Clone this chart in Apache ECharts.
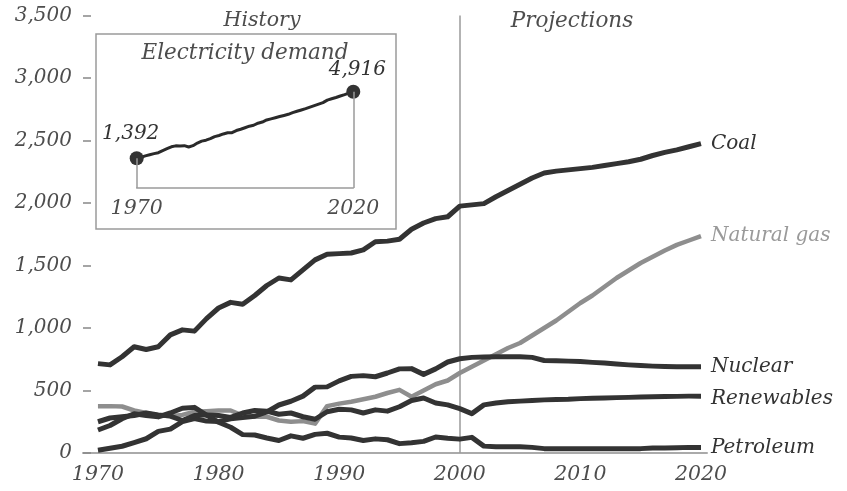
<!DOCTYPE html>
<html>
<head>
<meta charset="utf-8">
<script src="https://cdn.jsdelivr.net/npm/echarts/dist/echarts.min.js"></script>
<style>html,body{margin:0;padding:0;background:#fff}#c{width:847px;height:491px}</style>
</head>
<body>
<div id="c"></div>
<script>
const years = [];
for (let y = 1970; y <= 2020; y++) years.push(y);

const coal = [715,705,770,850,828,850,945,985,975,1075,1160,1205,1190,1260,1340,1400,1385,1465,1545,1590,1595,1600,1625,1690,1695,1710,1790,1840,1875,1890,1975,1985,1995,2050,2100,2150,2200,2240,2255,2265,2275,2285,2300,2315,2330,2350,2380,2405,2425,2450,2475];
const naturalGas = [375,375,372,340,320,300,295,305,330,335,340,340,300,290,290,260,250,255,235,375,395,410,430,450,480,505,450,500,550,580,640,690,740,790,840,880,940,1000,1060,1130,1200,1260,1330,1400,1460,1520,1570,1620,1665,1700,1735];
const nuclear = [22,38,54,83,114,173,191,251,276,255,251,273,283,294,328,384,414,455,527,529,577,613,619,610,640,673,675,629,673,728,754,765,768,770,770,770,765,740,738,735,732,725,720,712,705,700,695,692,690,690,690];
const renewables = [250,280,290,300,320,305,295,260,300,305,300,285,320,340,335,310,320,290,270,330,350,345,320,345,335,370,420,440,400,385,355,315,385,400,410,415,420,425,428,430,435,438,440,443,445,448,450,452,453,455,455];
const petroleum = [184,220,274,314,300,289,320,358,365,303,246,206,147,144,120,100,137,118,149,158,127,120,100,113,106,75,82,93,128,118,111,125,55,50,50,50,45,35,35,35,35,35,35,35,35,35,40,40,42,45,45];
const demand = [1392,1450,1520,1580,1640,1690,1800,1900,2000,2050,2040,2060,1990,2060,2200,2300,2350,2430,2540,2600,2680,2740,2750,2860,2930,3010,3090,3140,3250,3310,3420,3480,3540,3600,3660,3720,3810,3880,3950,4020,4100,4180,4260,4340,4470,4540,4610,4690,4760,4840,4916];

const xTicks = [1970,1980,1990,2000,2010,2020];
const yTicks = [0,500,1000,1500,2000,2500,3000,3500];
const insetTicks = [1970,2020];

const FONT = 'DejaVu Serif';
const TXT = '#4d4d4d';
const fmt = v => v.toLocaleString('en-US');
const pair = arr => years.map((y,i)=>[y, arr[i]]);

const insetMin = -180;
const last = demand.length - 1;
const demandData = years.map((y,i)=>{
  const d = {value:[y, demand[i]]};
  if (i === 0) d.label = {show:true, formatter: fmt(demand[i]), position:'top', offset:[-6,-2]};
  else if (i === last) d.label = {show:true, formatter: fmt(demand[i]), position:'top', offset:[4,0]};
  else d.symbolSize = 0;
  return d;
});

function mainSeries(name, arr, color, width, labelColor, labelOffset) {
  return {
    name, type:'line', data: pair(arr), xAxisIndex:0, yAxisIndex:0,
    showSymbol:false, symbol:'none',
    lineStyle:{color, width, cap:'butt', join:'round'},
    itemStyle:{color},
    z: 3,
    endLabel:{show:true, formatter: name, distance:10, offset: labelOffset || [0,0],
      color: labelColor, fontFamily: FONT, fontStyle:'italic', fontSize:20},
    animation:false
  };
}

const chart = echarts.init(document.getElementById('c'), null, {renderer:'canvas'});
const series = [
  mainSeries('Coal', coal, '#333333', 5, '#333333'),
  mainSeries('Natural gas', naturalGas, '#8e8e8e', 4.5, '#9a9a9a'),
  mainSeries('Nuclear', nuclear, '#333333', 5, '#333333'),
  mainSeries('Renewables', renewables, '#333333', 5, '#333333', [0,3]),
  mainSeries('Petroleum', petroleum, '#333333', 5, '#333333')
];
series[0].markLine = {
  silent:true, symbol:['none','none'], label:{show:false},
  lineStyle:{color:'#9a9a9a', width:1.5, type:'solid'},
  data:[{xAxis:2000}], z:1, animation:false
};
series.push({
  name:'Electricity demand', type:'line', data: demandData, xAxisIndex:1, yAxisIndex:1,
  symbol:'circle', symbolSize:14, showAllSymbol:true, clip:false,
  lineStyle:{color:'#2a2a2a', width:3},
  itemStyle:{color:'#333333'},
  label:{show:false, color:'#333', fontFamily:FONT, fontStyle:'italic', fontSize:20},
  markLine:{
    silent:true, symbol:['none','none'], label:{show:false},
    lineStyle:{color:'#9a9a9a', width:1.5, type:'solid'},
    data:[
      [{coord:[years[0], demand[0]]},{coord:[years[0], insetMin]}],
      [{coord:[years[last], demand[last]]},{coord:[years[last], insetMin]}]
    ],
    animation:false
  },
  animation:false
});

chart.setOption({
  backgroundColor:'#ffffff',
  animation:false,
  grid:[
    {left:83, right:140, top:15.5, bottom:38},
    {left:136.7, right:847-353.3, top:91.7, bottom:491-188}
  ],
  xAxis:[
    {type:'value', gridIndex:0, min:1968.76, max:2020.5,
     axisLine:{show:true, lineStyle:{color:'#aaaaaa', width:2}},
     axisTick:{show:false}, splitLine:{show:false},
     axisLabel:{customValues:xTicks, color:TXT, fontFamily:FONT, fontStyle:'italic', fontSize:20.5, margin:12, formatter: v=>String(v)}},
    {type:'value', gridIndex:1, min:1970, max:2020,
     axisLine:{show:true, onZero:false, lineStyle:{color:'#9a9a9a', width:1.5}},
     axisTick:{show:false}, splitLine:{show:false},
     axisLabel:{customValues:insetTicks, color:TXT, fontFamily:FONT, fontStyle:'italic', fontSize:20.5, margin:11, formatter: v=>String(v)}}
  ],
  yAxis:[
    {type:'value', gridIndex:0, min:0, max:3500, interval:500,
     axisLine:{show:false},
     axisTick:{show:true, inside:true, length:8, lineStyle:{color:'#888888', width:1.5}},
     splitLine:{show:false},
     axisLabel:{customValues:yTicks, color:TXT, fontFamily:FONT, fontStyle:'italic', fontSize:20, margin:11, formatter: v=>fmt(v)}},
    {type:'value', gridIndex:1, min:insetMin, max:4916, show:false,
     splitLine:{show:false}}
  ],
  graphic:[
    {type:'rect', shape:{x:96, y:34, width:300, height:195}, style:{fill:null, stroke:'#9a9a9a', lineWidth:1.5}, z:0, silent:true},
    {type:'text', x:262, y:21, style:{text:'History', font:'italic 20.5px "DejaVu Serif"', fill:TXT, textAlign:'center', textVerticalAlign:'middle'}},
    {type:'text', x:572, y:21, style:{text:'Projections', font:'italic 21.5px "DejaVu Serif"', fill:TXT, textAlign:'center', textVerticalAlign:'middle'}},
    {type:'text', x:245, y:53, style:{text:'Electricity demand', font:'italic 21.5px "DejaVu Serif"', fill:TXT, textAlign:'center', textVerticalAlign:'middle'}}
  ],
  series
});
</script>
</body>
</html>
